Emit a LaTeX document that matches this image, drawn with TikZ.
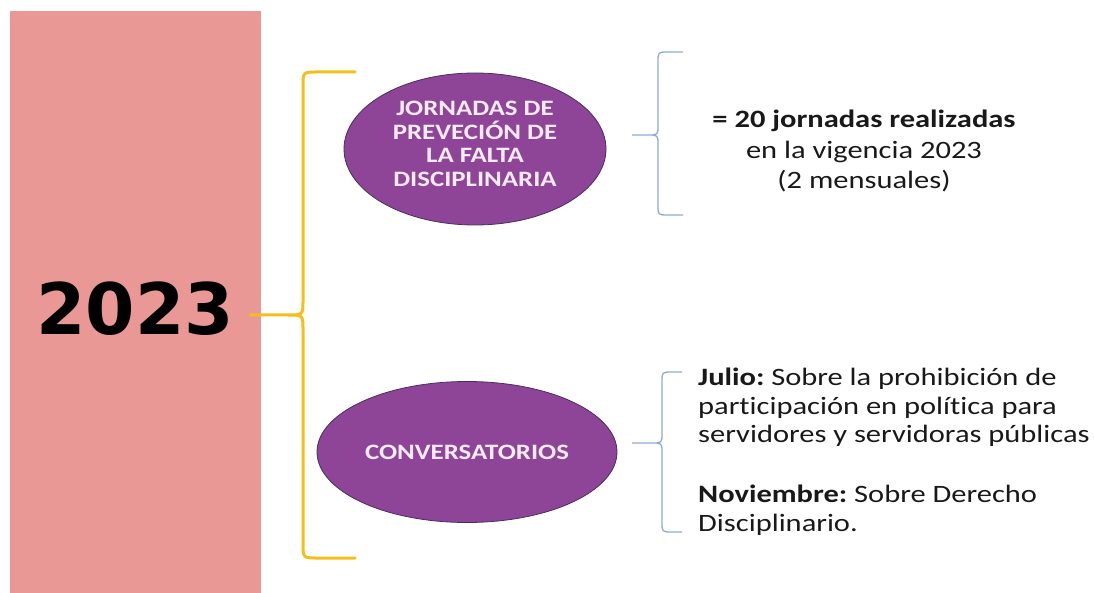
\documentclass[tikz,border=0pt]{standalone}
\usepackage{fontspec}
\setmainfont{Carlito}[FakeStretch=1.22, Ligatures=NoCommon]
\newfontfamily\yearfont{DejaVu Sans}
\usepackage{tikz}
\usetikzlibrary{shapes.geometric}
\frenchspacing

\definecolor{pinkband}{RGB}{234,152,150}
\definecolor{ovalfill}{RGB}{142,68,151}
\definecolor{ovaldraw}{RGB}{72,46,98}
\definecolor{ovaltext}{RGB}{250,235,248}
\definecolor{goldbrace}{RGB}{245,190,25}
\definecolor{bluebrace}{RGB}{143,170,215}

% #1 x of the bar, #2 top, #3 bottom, #4 x of the tip, #5 y of the tip, #6 x of the ends, #7 corner
\newcommand{\curlybrace}[7]{(#6,#2) -- (#1+#7,#2) .. controls (#1,#2) .. (#1,#2+#7)
  -- (#1,#5-#7) .. controls (#1,#5) .. (#1-#7,#5) -- (#4,#5)
  (#4,#5) -- (#1-#7,#5) .. controls (#1,#5) .. (#1,#5+#7)
  -- (#1,#3-#7) .. controls (#1,#3) .. (#1+#7,#3) -- (#6,#3)}

\tikzset{
  yearlabel/.style={inner sep=0pt, font=\yearfont\bfseries\fontsize{71}{71}\selectfont},
  oval/.style={ellipse, fill=ovalfill, draw=ovaldraw, line width=0.8pt, inner sep=0pt,
    text=ovaltext, align=center, font=\bfseries\fontsize{22}{23.5}\selectfont},
  note/.style={inner sep=0pt, text=black!90, font=\fontsize{25}{28.5}\selectfont}
}

\begin{document}
\begin{tikzpicture}[x=1pt,y=-1pt]
    \useasboundingbox (0,0) rectangle (1094,593);
    \fill[pinkband] (10,11) rectangle (261,593);

    \node[yearlabel] (year) at (135,309) {2023};

    \draw[goldbrace, line width=3pt, line cap=round] \curlybrace{303}{72}{558}{250}{315}{355}{15};

    \node[oval, minimum width=262, minimum height=152, text depth=10pt] (jornadas) at (475,149)
      {JORNADAS DE\\PREVECIÓN DE\\LA FALTA\\DISCIPLINARIA};
    \node[oval, minimum width=300, minimum height=141] (conversatorios) at (467,452)
      {CONVERSATORIOS};

    \draw[bluebrace, line width=1.3pt] \curlybrace{658}{52}{215}{632}{135}{683}{10};
    \draw[bluebrace, line width=1.3pt] \curlybrace{662}{372}{532}{632}{443}{682}{10};

    \node[note, align=center, font=\fontsize{25}{30.5}\selectfont] (total) at (864,151)
      {\textbf{= 20 jornadas realizadas}\\en la vigencia 2023\\(2 mensuales)};
    \node[note, align=left, anchor=north west] (julio) at (698,368)
      {\textbf{Julio:} Sobre la prohibición de\\participación en política para\\servidores y servidoras públicas};
    \node[note, align=left, anchor=north west] (noviembre) at (698,485)
      {\textbf{Noviembre:} Sobre Derecho\\Disciplinario.};
\end{tikzpicture}
\end{document}
